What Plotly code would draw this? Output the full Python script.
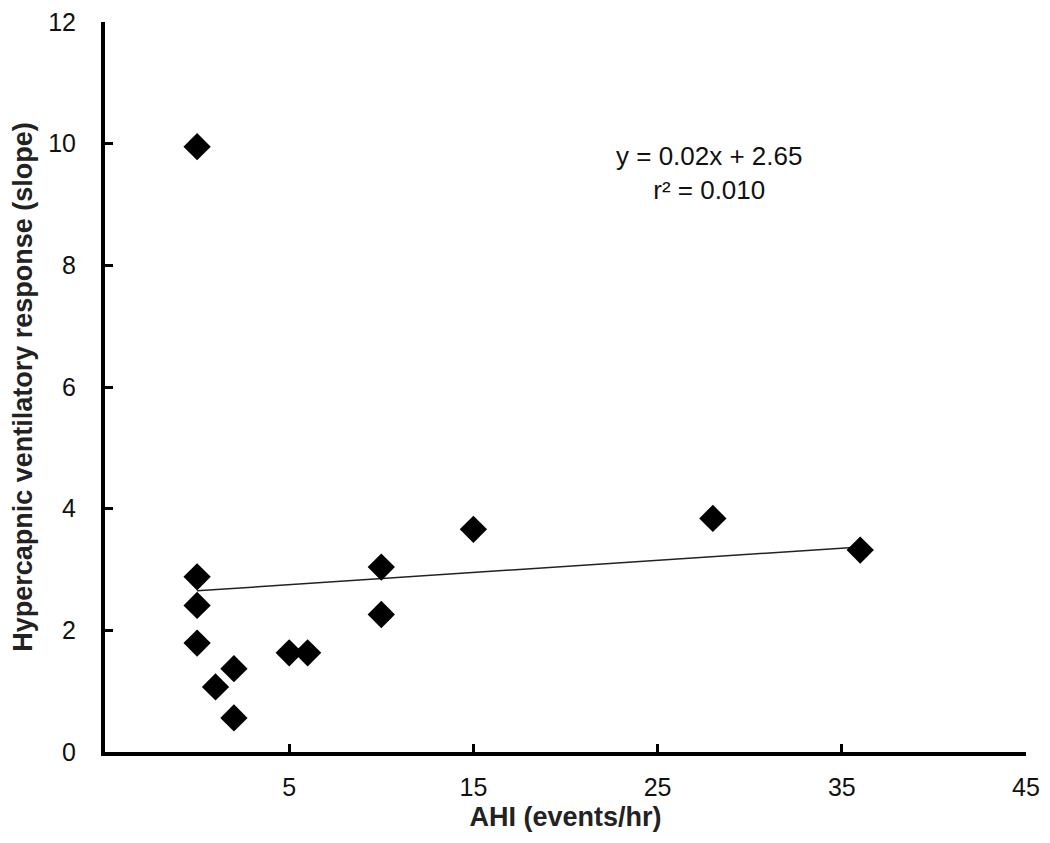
import plotly.graph_objects as go

# Data
ahi = [0, 0, 0, 0, 1, 2, 2, 5, 6, 10, 10, 15, 28, 36]
hcvr = [9.95, 2.88, 2.41, 1.79, 1.07, 1.37, 0.56, 1.63, 1.63, 3.04, 2.26, 3.66, 3.84, 3.32]

# Regression line reported on the chart
slope = 0.02
intercept = 2.65
fit_x = [0, 36]
fit_y = [intercept + slope * x for x in fit_x]

x_ticks = [5, 15, 25, 35, 45]
y_ticks = [0, 2, 4, 6, 8, 10, 12]

FONT = "Liberation Sans, Arial, sans-serif"

fig = go.Figure()
fig.add_trace(go.Scatter(
    x=fit_x, y=fit_y, mode="lines",
    line=dict(color="#222222", width=1.5),
    showlegend=False, hoverinfo="skip",
))
fig.add_trace(go.Scatter(
    x=ahi, y=hcvr, mode="markers",
    marker=dict(symbol="diamond", size=21, color="black", line=dict(width=0)),
    showlegend=False,
))

fig.add_annotation(
    x=27.8, y=9.51, xref="x", yref="y",
    text="y = 0.02x + 2.65<br>r² = 0.010",
    showarrow=False, align="center",
    font=dict(family=FONT, size=26, color="#111111"),
)

fig.update_layout(
    width=1050, height=843,
    margin=dict(l=97, r=32, t=14, b=99),
    paper_bgcolor="white", plot_bgcolor="white",
    font=dict(family=FONT, size=25, color="black"),
    showlegend=False,
)

fig.update_xaxes(
    range=[-5, 45], tickvals=x_ticks, ticktext=[str(v) for v in x_ticks],
    showgrid=False, zeroline=False, automargin=False,
    showline=True, linecolor="black", linewidth=4,
    ticks="inside", ticklen=8, tickwidth=3, tickcolor="black",
    ticklabelstandoff=10, ticklabeloverflow="allow",
    tickfont=dict(family=FONT, size=25, color="#111111"),
    title=dict(text="<b>AHI (events/hr)</b>", font=dict(family=FONT, size=27, color="#222222"), standoff=8),
)
fig.update_yaxes(
    range=[0, 12], tickvals=y_ticks, ticktext=[str(v) for v in y_ticks],
    showgrid=False, zeroline=False, automargin=False,
    showline=True, linecolor="black", linewidth=4,
    ticks="inside", ticklen=8, tickwidth=3, tickcolor="black",
    ticklabelstandoff=20, ticklabeloverflow="allow",
    tickfont=dict(family=FONT, size=25, color="#111111"),
    title=dict(text="<b>Hypercapnic ventilatory response (slope)</b>", font=dict(family=FONT, size=27, color="#222222"), standoff=10),
)

fig.write_html("out.html")
